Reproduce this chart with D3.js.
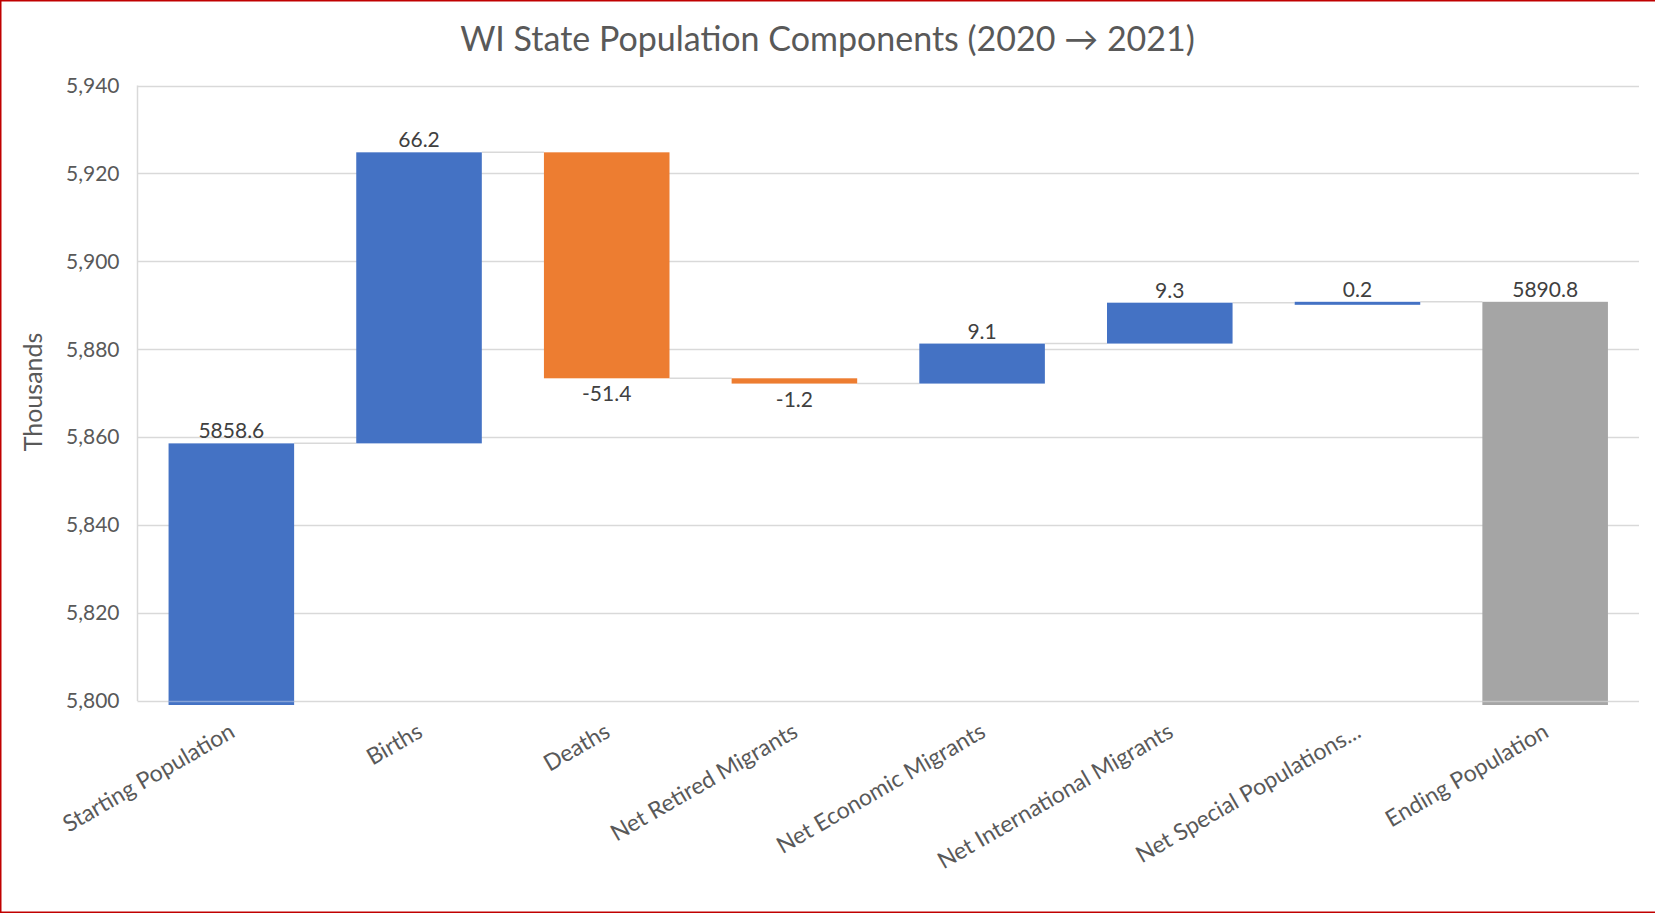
<!DOCTYPE html>
<html><head><meta charset="utf-8">
<script src="https://cdn.jsdelivr.net/npm/d3@7"></script>
<style>html,body{margin:0;padding:0;background:#fff;}svg{display:block;}</style>
</head><body>
<svg id="chart" width="1655" height="914"></svg>
<script>
const categories = ["Starting Population","Births","Deaths","Net Retired Migrants","Net Economic Migrants","Net International Migrants","Net Special Populations...","Ending Population"];
const changes = [5858.6, 66.2, -51.4, -1.2, 9.1, 9.3, 0.2, 5890.8];
const kinds = ["total","change","change","change","change","change","change","total"];
const yTicks = [5800, 5820, 5840, 5860, 5880, 5900, 5920, 5940];
const titleText = "WI State Population Components (2020 \u2192 2021)";
const yAxisTitle = "Thousands";

const W = 1655, H = 914;
const m = {left: 137.5, right: 1639, top: 85.5, bottom: 701};
const svg = d3.select("#chart");
const font = "Lato, 'Open Sans', sans-serif";
const textCol = "#595959";

const x = d3.scaleBand().domain(categories).range([m.left, m.right]).paddingInner(0.331).paddingOuter(0.1655);
const y = d3.scaleLinear().domain([5800, 5940]).range([m.bottom, m.top]);

// compute waterfall
let run = 0;
const bars = categories.map((c, i) => {
  let start, end;
  if (kinds[i] === "total") { start = 5800; end = changes[i]; run = changes[i]; }
  else { start = run; end = run + changes[i]; run = end; }
  return {c, i, v: changes[i], start, end, kind: kinds[i]};
});

// frame border
svg.append("rect").attr("x",0.75).attr("y",0.75).attr("width",W+4).attr("height",H-2.5)
  .attr("fill","none").attr("stroke","#c00000").attr("stroke-width",1.5);

// grid
svg.append("g").selectAll("line").data(yTicks).join("line")
  .attr("x1", m.left).attr("x2", m.right)
  .attr("y1", d => Math.round(y(d))+0.5).attr("y2", d => Math.round(y(d))+0.5)
  .attr("stroke", "#d9d9d9").attr("stroke-width", 1.5);
svg.append("line").attr("x1", m.left).attr("x2", m.left).attr("y1", y(5940)).attr("y2", y(5800))
  .attr("stroke", "#d9d9d9").attr("stroke-width", 1.5);

// y axis
const yAxis = d3.axisLeft(y).tickValues(yTicks).tickSize(0).tickPadding(18).tickFormat(d3.format(","));
const gy = svg.append("g").attr("transform", `translate(${m.left},0)`).call(yAxis);
gy.select(".domain").remove();
gy.selectAll("text").attr("font-family", font).attr("font-size", 21).attr("fill", textCol);

// connectors
svg.append("g").selectAll("line").data(bars.slice(0, -1)).join("line")
  .attr("x1", d => x(d.c) + x.bandwidth())
  .attr("x2", d => x(categories[d.i+1]))
  .attr("y1", d => y(d.end)).attr("y2", d => y(d.end))
  .attr("stroke", "#d9d9d9").attr("stroke-width", 1.5);

// bars
const colorOf = d => d.kind === "total" ? "#a5a5a5" : (d.v >= 0 ? "#4472c4" : "#ed7d31");
const colorFinal = d => d.i === 0 ? "#4472c4" : colorOf(d);
const barG = svg.append("g");
barG.selectAll("rect.bar").data(bars).join("rect").attr("class","bar")
  .attr("x", d => x(d.c)).attr("width", x.bandwidth())
  .attr("y", d => y(Math.max(d.start, d.end)))
  .attr("height", d => Math.max(3, Math.abs(y(d.start) - y(d.end)) + (d.kind === "total" ? 4 : 0)))
  .attr("fill", colorFinal);
// pale base line under total bars (axis line showing through)
barG.selectAll("line.base").data(bars.filter(d => d.kind === "total")).join("line").attr("class","base")
  .attr("x1", d => x(d.c)).attr("x2", d => x(d.c) + x.bandwidth())
  .attr("y1", y(5800) + 0.5).attr("y2", y(5800) + 0.5)
  .attr("stroke", "#ffffff").attr("stroke-opacity", 0.35).attr("stroke-width", 1.5);

// value labels
svg.append("g").selectAll("text").data(bars).join("text")
  .attr("x", d => x(d.c) + x.bandwidth()/2)
  .attr("y", d => d.v >= 0 ? y(Math.max(d.start, d.end)) - 5 : y(Math.min(d.start, d.end)) + 23)
  .attr("text-anchor", "middle")
  .attr("font-family", font).attr("font-size", 21).attr("fill", "#404040")
  .text(d => d.v.toFixed(1));

// x labels
svg.append("g").selectAll("text").data(categories).join("text")
  .attr("transform", d => `translate(${x(d) + x.bandwidth()/2 + 5},${m.bottom + 35}) rotate(-30)`)
  .attr("text-anchor", "end")
  .attr("font-family", font).attr("font-size", 23).attr("fill", textCol)
  .text(d => d);

// title
svg.append("text").attr("x", W/2).attr("y", 51).attr("text-anchor", "middle")
  .attr("font-family", font).attr("font-size", 34).attr("fill", textCol).text(titleText);

// y axis title
svg.append("text").attr("transform", `translate(42,392) rotate(-90)`).attr("text-anchor", "middle")
  .attr("font-family", font).attr("font-size", 25).attr("fill", textCol).text(yAxisTitle);
</script>
</body></html>
